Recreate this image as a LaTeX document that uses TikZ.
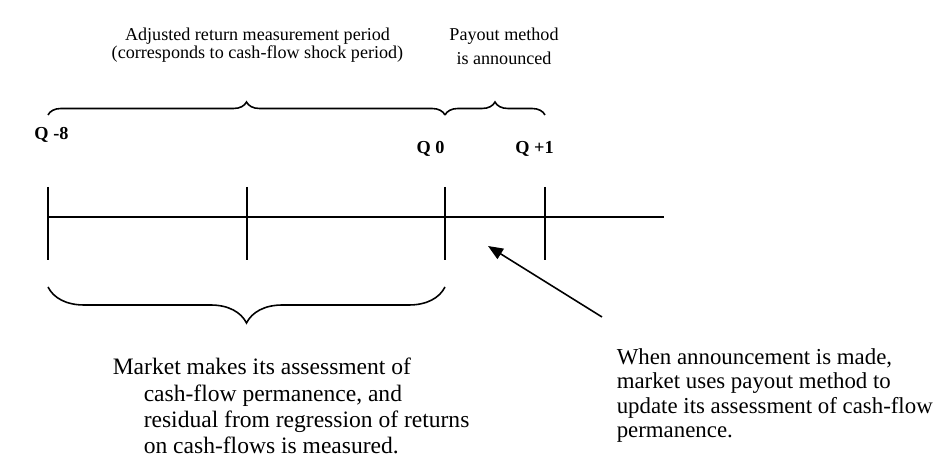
\documentclass[tikz,border=0pt]{standalone}
\usepackage{fontspec}
\setmainfont{Liberation Serif}
\usepackage{tikz}
\usetikzlibrary{arrows.meta, decorations.pathreplacing}

\tikzset{
  topnote/.style={font=\fontsize{10.3}{10.3}\selectfont, align=center, inner sep=0pt},
  qlabel/.style={font=\fontsize{10.4}{10.4}\selectfont\bfseries, inner sep=0pt},
  lownote/.style={font=\fontsize{13.4}{15.0}\selectfont, align=left, inner sep=0pt, anchor=base west},
  period/.style={decorate, decoration={brace, amplitude=#1}, line width=0.9pt},
}

\begin{document}
\begin{tikzpicture}[line width=0.9pt]
    \useasboundingbox (0,0) rectangle (18.72,9.36);
    % time line and quarter marks
    \coordinate (axL) at (0.96,5.02);
    \coordinate (axR) at (13.28,5.02);
    \draw (axL) -- (axR);
    \foreach \nm/\x in {qm8/0.96, qmid/4.94, q0/8.90, q1/10.90} {
        \coordinate (\nm top) at (\x,5.62);
        \coordinate (\nm bot) at (\x,4.16);
        \draw (\nm top) -- (\nm bot);
    }
    % quarter labels
    \node[qlabel] (lqm8) at (1.03,6.66) {Q -8};
    \node[qlabel] (lq0) at (8.61,6.38) {Q 0};
    \node[qlabel] (lq1) at (10.69,6.38) {Q +1};
    % braces over the periods
    \coordinate (bA) at (0.96,7.06);
    \coordinate (bB) at (8.90,7.06);
    \coordinate (bC) at (10.90,7.06);
    \draw[period=0.26cm] (bA) -- (bB);
    \draw[period=0.26cm] (bB) -- (bC);
    \node[topnote] (measure) at (5.15,8.46)
        {Adjusted return measurement period\\(corresponds to cash-flow shock period)};
    \node[topnote, font=\fontsize{10.3}{13.6}\selectfont] (payout) at (10.08,8.44)
        {Payout method\\is announced};
    % brace under the assessment period
    \coordinate (cA) at (8.90,3.62);
    \coordinate (cB) at (0.96,3.62);
    \draw[period=0.72cm] (cA) -- (cB);
    \node[lownote] (assess) at (2.24,0.28)
        {Market makes its assessment of\\
         \hspace*{0.62cm}cash-flow permanence, and\\
         \hspace*{0.62cm}residual from regression of returns\\
         \hspace*{0.62cm}on cash-flows is measured.};
    % announcement arrow
    \coordinate (arrS) at (12.04,3.02);
    \coordinate (arrE) at (9.76,4.44);
    \draw[-{Triangle[length=0.3cm,width=0.24cm]}] (arrS) -- (arrE);
    \node[lownote, font=\fontsize{13.0}{14.0}\selectfont] (update) at (12.32,0.60)
        {When announcement is made,\\
         market uses payout method to\\
         update its assessment of cash-flow\\
         permanence.};
\end{tikzpicture}
\end{document}
